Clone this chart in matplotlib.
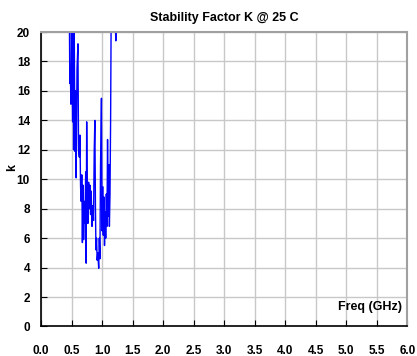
import matplotlib
matplotlib.use("Agg")
import matplotlib.pyplot as plt

freq_ghz = [0.465, 0.472, 0.480, 0.490, 0.498, 0.508, 0.518, 0.526, 0.534, 0.544,
            0.556, 0.566, 0.576, 0.590, 0.605, 0.615, 0.628, 0.638, 0.648, 0.658,
            0.668, 0.678, 0.688, 0.698, 0.710, 0.720, 0.732, 0.740, 0.748, 0.758,
            0.768, 0.780, 0.790, 0.800, 0.812, 0.822, 0.835, 0.848, 0.860, 0.872,
            0.882, 0.892, 0.900, 0.910, 0.920, 0.930, 0.945, 0.955, 0.965, 0.975,
            0.990, 1.000, 1.010, 1.020, 1.030, 1.040, 1.050, 1.060, 1.070, 1.080,
            1.090, 1.100, 1.110, 1.120, 1.130, 1.140, 1.150, 1.170, 1.200, 1.215,
            1.225, 1.235, 1.260]
k_values = [21.0, 16.5, 17.5, 15.1, 21.0, 17.0, 13.9, 21.0, 12.0, 20.5,
            11.9, 16.0, 10.1, 17.5, 19.2, 12.0, 11.5, 13.0, 9.5, 8.5,
            10.3, 5.7, 9.6, 5.9, 8.5, 7.0, 10.5, 4.3, 13.9, 8.5,
            7.0, 9.8, 8.0, 9.6, 7.6, 9.2, 6.8, 8.2, 7.2, 12.0,
            14.0, 8.0, 5.2, 6.0, 4.5, 5.0, 3.95, 6.0, 4.6, 11.0,
            15.5, 6.5, 9.5, 6.2, 8.8, 5.5, 7.8, 6.0, 9.0, 6.8,
            12.7, 7.5, 11.0, 6.8, 9.0, 14.0, 22.0, 25.0, 23.0, 21.0,
            19.4, 21.5, 25.0]

x_ticks = [0.0, 0.5, 1.0, 1.5, 2.0, 2.5, 3.0, 3.5, 4.0, 4.5, 5.0, 5.5, 6.0]
y_ticks = [0, 2, 4, 6, 8, 10, 12, 14, 16, 18, 20]

plt.rcParams['font.family'] = ['Liberation Sans', 'DejaVu Sans']

fig = plt.figure(figsize=(4.17, 3.56), dpi=100)
ax = fig.add_axes([0.0983, 0.0829, 0.977 - 0.0983, 0.910 - 0.0829])

ax.plot(freq_ghz, k_values, color='#0000FF', linewidth=1.0)

ax.set_xlim(0, 6)
ax.set_ylim(0, 20)
ax.set_xticks(x_ticks)
ax.set_xticklabels([f"{v:.1f}" for v in x_ticks], fontweight='bold', fontsize=8.5)
ax.set_yticks(y_ticks)
ax.set_yticklabels([str(v) for v in y_ticks], fontweight='bold', fontsize=8.5)
ax.tick_params(axis='x', direction='in', length=4, pad=13, color='black')
ax.tick_params(axis='y', direction='in', length=4, pad=8, color='black')
ax.grid(True, color='#c8c8c8', linewidth=1.0)
ax.set_axisbelow(True)

for side in ['top', 'right']:
    ax.spines[side].set_color('#a0a0a0')
    ax.spines[side].set_linewidth(1.5)
for side in ['left', 'bottom']:
    ax.spines[side].set_color('black')
    ax.spines[side].set_linewidth(1.2)

ax.set_title("Stability Factor K @ 25 C", fontweight='bold', fontsize=9, pad=8)
ax.text(-0.08, 0.54, "k", transform=ax.transAxes, rotation=90,
        fontweight='bold', fontsize=9, ha='center', va='center')
ax.text(0.984, 0.066, "Freq (GHz)", transform=ax.transAxes,
        fontweight='bold', fontsize=9, ha='right', va='center')

fig.savefig("out.png", dpi=100)
